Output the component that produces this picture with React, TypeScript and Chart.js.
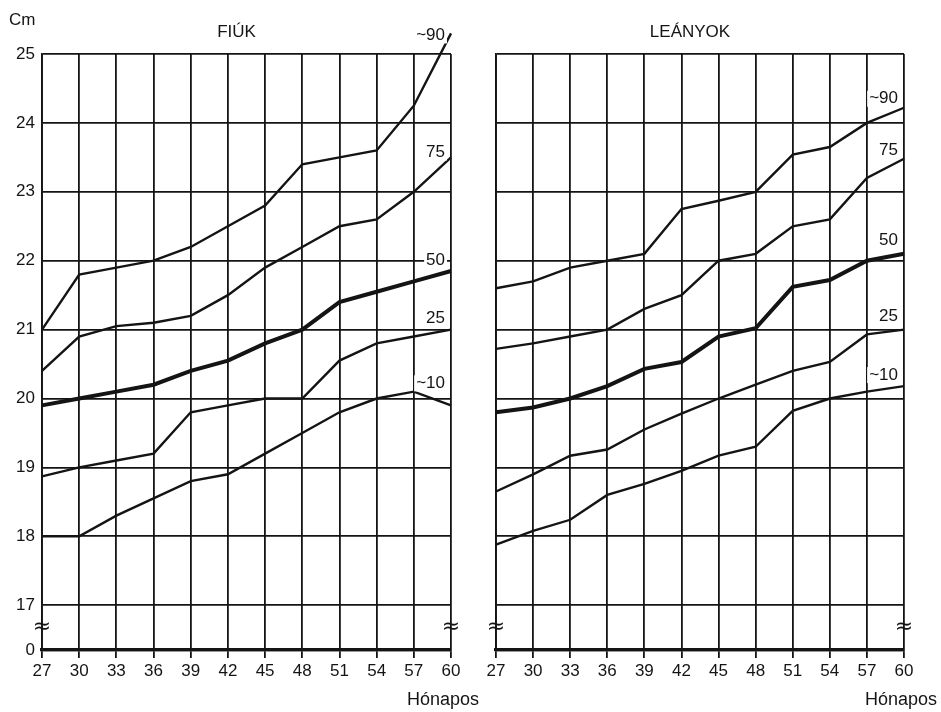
import React, { useEffect, useRef } from 'react';
import { Chart, registerables } from 'chart.js';

Chart.register(...registerables);

// Months (x axis)
const months = [27, 30, 33, 36, 39, 42, 45, 48, 51, 54, 57, 60];

// FIÚK (boys) percentiles, cm
const boysP90 = [21.0, 21.8, 21.9, 22.0, 22.2, 22.5, 22.8, 23.4, 23.5, 23.6, 24.25, 25.3];
const boysP75 = [20.4, 20.9, 21.05, 21.1, 21.2, 21.5, 21.9, 22.2, 22.5, 22.6, 23.0, 23.5];
const boysP50 = [19.9, 20.0, 20.1, 20.2, 20.4, 20.55, 20.8, 21.0, 21.4, 21.55, 21.7, 21.85];
const boysP25 = [18.87, 19.0, 19.1, 19.2, 19.8, 19.9, 20.0, 20.0, 20.55, 20.8, 20.9, 21.0];
const boysP10 = [18.0, 18.0, 18.3, 18.55, 18.8, 18.9, 19.2, 19.5, 19.8, 20.0, 20.1, 19.9];

// LEÁNYOK (girls) percentiles, cm
const girlsP90 = [21.6, 21.7, 21.9, 22.0, 22.1, 22.75, 22.87, 23.0, 23.54, 23.65, 24.0, 24.22];
const girlsP75 = [20.72, 20.8, 20.9, 21.0, 21.3, 21.5, 22.0, 22.1, 22.5, 22.6, 23.2, 23.48];
const girlsP50 = [19.8, 19.87, 20.0, 20.18, 20.43, 20.53, 20.9, 21.02, 21.62, 21.72, 22.0, 22.1];
const girlsP25 = [18.65, 18.9, 19.17, 19.26, 19.55, 19.78, 20.0, 20.2, 20.4, 20.53, 20.93, 21.0];
const girlsP10 = [17.88, 18.08, 18.24, 18.6, 18.76, 18.95, 19.17, 19.3, 19.82, 20.0, 20.1, 20.18];

// Y axis: 17..25 with a broken axis down to 0
const yTickValues = [17, 18, 19, 20, 21, 22, 23, 24, 25];
const yZeroPosition = 16.35; // where "0" sits below the axis break
const yZeroLabel = '0';
const yBreakMarkValue = 16.68;

// Curve labels
const percentileLabels = ['~90', '75', '50', '25', '~10'];
const boysLabelY = [25.27, 23.57, 22.0, 21.16, 20.22];
const girlsLabelY = [24.35, 23.6, 22.29, 21.19, 20.34];

const INK = '#141414';
const FONT = "'Liberation Sans', 'DejaVu Sans', sans-serif";

type Panel = {
  title: string;
  series: number[][];
  labelY: number[];
  isLeft: boolean;
};

const panels: Panel[] = [
  { title: 'FIÚK', series: [boysP90, boysP75, boysP50, boysP25, boysP10], labelY: boysLabelY, isLeft: true },
  { title: 'LEÁNYOK', series: [girlsP90, girlsP75, girlsP50, girlsP25, girlsP10], labelY: girlsLabelY, isLeft: false },
];

function decorPlugin(panel: Panel) {
  return {
    id: 'decor',
    afterDraw(chart: any) {
      const { ctx, chartArea } = chart;
      const xs = chart.scales.x;
      const ys = chart.scales.y;
      ctx.save();
      ctx.fillStyle = INK;
      ctx.textBaseline = 'middle';

      // Title
      ctx.font = `17px ${FONT}`;
      ctx.textAlign = 'center';
      ctx.fillText(panel.title, (chartArea.left + chartArea.right) / 2 - 10, 32);

      // Units
      if (panel.isLeft) {
        ctx.textAlign = 'left';
        ctx.font = `17px ${FONT}`;
        ctx.fillText('Cm', 9, 20);
      }

      // Percentile labels with white knock-out
      ctx.font = `17px ${FONT}`;
      ctx.textAlign = 'right';
      const xr = xs.getPixelForValue(60) - 6;
      percentileLabels.forEach((t, i) => {
        const y = ys.getPixelForValue(panel.labelY[i]);
        const w = ctx.measureText(t).width;
        ctx.fillStyle = '#ffffff';
        ctx.fillRect(xr - w - 2, y - 8, w + 4, 16);
        ctx.fillStyle = INK;
        ctx.fillText(t, xr, y);
      });

      // Axis break marks
      ctx.font = `22px 'DejaVu Sans', sans-serif`;
      ctx.textAlign = 'center';
      const yb = ys.getPixelForValue(yBreakMarkValue);
      ctx.fillText('≈', chartArea.left, yb);
      ctx.fillText('≈', chartArea.right, yb);

      // X axis title
      ctx.font = `18px ${FONT}`;
      ctx.textAlign = 'left';
      ctx.fillText('Hónapos', chartArea.right - (panel.isLeft ? 44 : 39), 700);

      ctx.restore();
    },
  };
}

function PanelChart({ panel }: { panel: Panel }) {
  const ref = useRef<HTMLCanvasElement | null>(null);
  useEffect(() => {
    if (!ref.current) return;
    const isLeft = panel.isLeft;
    const chart = new Chart(ref.current, {
      type: 'line',
      data: {
        datasets: panel.series.map((s, i) => ({
          label: percentileLabels[i],
          data: months.map((m, j) => ({ x: m, y: s[j] })),
          borderColor: INK,
          borderWidth: i === 2 ? 4 : 2.4,
          pointRadius: 0,
          tension: 0,
          fill: false,
          clip: false as any,
        })),
      },
      options: {
        responsive: false,
        animation: false,
        devicePixelRatio: 1,
        layout: {
          padding: { left: isLeft ? 0 : 496, right: isLeft ? 490 : 37, top: 54, bottom: 32 },
        },
        plugins: { legend: { display: false }, tooltip: { enabled: false } },
        scales: {
          x: {
            type: 'linear',
            min: 27,
            max: 60,
            afterBuildTicks: (s: any) => {
              s.ticks = months.map((v) => ({ value: v }));
            },
            afterFit: (s: any) => {
              s.height = 30;
            },
            grid: { color: INK, lineWidth: 1.8, tickLength: 8 },
            border: { color: INK, width: 3.2 },
            ticks: {
              color: INK,
              font: { family: FONT, size: 17 },
              padding: 3,
              maxRotation: 0,
              autoSkip: false,
            },
          },
          y: {
            type: 'linear',
            min: yZeroPosition,
            max: 25,
            afterBuildTicks: (s: any) => {
              s.ticks = [yZeroPosition, ...yTickValues].map((v) => ({ value: v }));
            },
            afterFit: (s: any) => {
              s.width = isLeft ? 42 : 0;
            },
            grid: {
              color: INK,
              lineWidth: (c: any) => (c.tick && c.tick.value < 17 ? 3.2 : 1.8),
              drawTicks: false,
            },
            border: { color: INK, width: 1.8 },
            ticks: {
              display: isLeft,
              color: INK,
              font: { family: FONT, size: 17 },
              padding: 7,
              callback: (v: any) => (v < 17 ? yZeroLabel : String(v)),
            },
          },
        },
      },
      plugins: [decorPlugin(panel)],
    } as any);
    return () => chart.destroy();
  }, [panel]);
  return (
    <canvas
      ref={ref}
      width={941}
      height={712}
      style={{ position: 'absolute', left: 0, top: 0, width: 941, height: 712 }}
    />
  );
}

export default function App() {
  return (
    <div
      style={{
        position: 'fixed',
        left: 0,
        top: 0,
        width: 941,
        height: 712,
        background: '#ffffff',
        overflow: 'hidden',
      }}
    >
      {panels.map((p) => (
        <PanelChart key={p.title} panel={p} />
      ))}
    </div>
  );
}
